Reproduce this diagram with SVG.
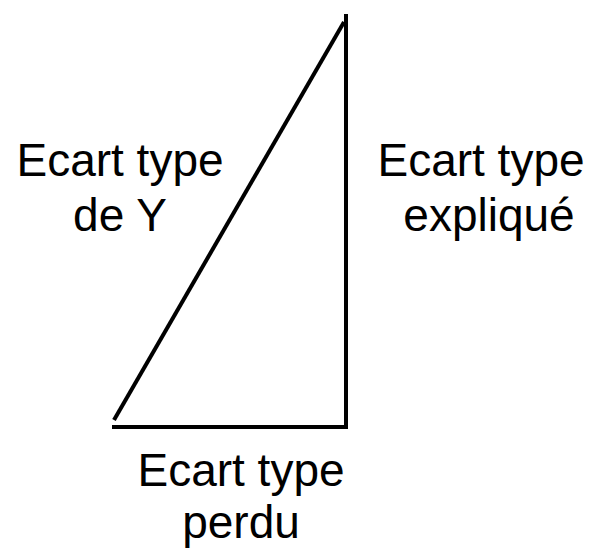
<svg xmlns="http://www.w3.org/2000/svg" width="596" height="552" viewBox="0 0 596 552">
<style>
.l{stroke:#000;stroke-width:4;fill:none}
text{font-family:"Liberation Sans",Arial,sans-serif;font-size:46px;fill:#000;text-anchor:middle}
</style>
<rect width="596" height="552" fill="#fff"/>
<g id="connectors">
<line class="l" x1="346" y1="14" x2="346" y2="429"/>
<line class="l" x1="112" y1="427" x2="348" y2="427"/>
<line class="l" x1="114" y1="420" x2="344" y2="22"/>
</g>
<g id="label-y"><text x="120" y="176">Ecart type</text><text x="120" y="231">de Y</text></g>
<g id="label-explique"><text x="481" y="176">Ecart type</text><text x="489" y="231">expliqué</text></g>
<g id="label-perdu"><text x="241" y="486">Ecart type</text><text x="241" y="538">perdu</text></g>
</svg>
